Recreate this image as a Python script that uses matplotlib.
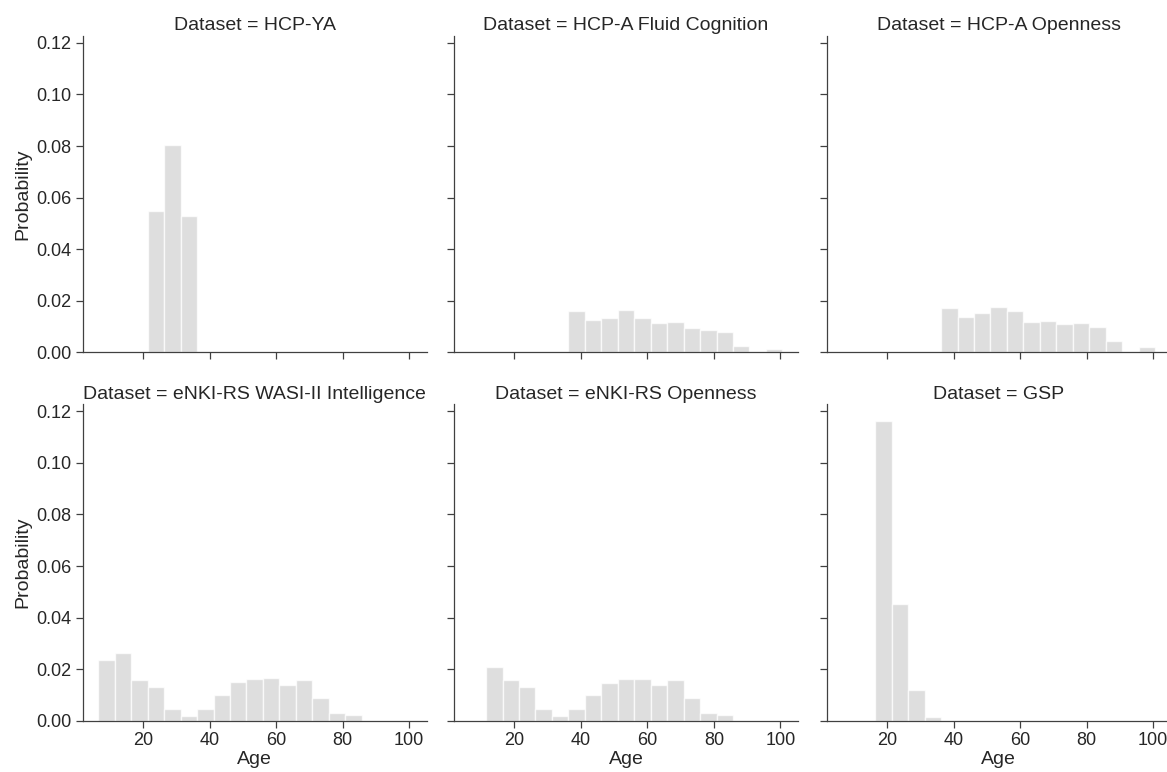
import numpy as np
import matplotlib
matplotlib.use("Agg")
import matplotlib.pyplot as plt
from matplotlib.ticker import FormatStrFormatter

# Bordas comuns dos bins de idade (19 bins)
bordas = np.linspace(6.5, 100.6, 20)

datasets = ["HCP-YA", "HCP-A Fluid Cognition", "HCP-A Openness",
            "eNKI-RS WASI-II Intelligence", "eNKI-RS Openness", "GSP"]

# Probabilidade por bin
hcp_ya = [0, 0, 0, 0.0549, 0.0803, 0.0527, 0, 0, 0, 0, 0, 0, 0, 0, 0, 0, 0, 0, 0]
hcp_a_fluid = [0, 0, 0, 0, 0, 0,
               0.0160, 0.0125, 0.0134, 0.0164, 0.0134, 0.0114, 0.0117,
               0.0095, 0.0086, 0.0079, 0.0026, 0, 0.0013]
hcp_a_open = [0, 0, 0, 0, 0, 0,
              0.0173, 0.0138, 0.0151, 0.0177, 0.0160, 0.0116, 0.0121,
              0.0108, 0.0112, 0.0099, 0.0044, 0, 0.0022]
enki_wasi = [0.0234, 0.0264, 0.0157, 0.0131, 0.0044, 0.0018, 0.0044, 0.0101,
             0.0151, 0.0161, 0.0166, 0.0140, 0.0157, 0.0088, 0.0031, 0.0023,
             0, 0, 0]
enki_open = [0, 0.0210, 0.0157, 0.0132, 0.0044, 0.0018, 0.0044, 0.0101,
             0.0148, 0.0161, 0.0161, 0.0140, 0.0157, 0.0088, 0.0031, 0.0022,
             0, 0, 0]
gsp = [0, 0, 0.1164, 0.0454, 0.0118, 0.0014, 0, 0, 0, 0, 0, 0, 0, 0, 0, 0, 0, 0, 0]

valores = [hcp_ya, hcp_a_fluid, hcp_a_open, enki_wasi, enki_open, gsp]

plt.rcParams["font.family"] = ["Liberation Sans", "DejaVu Sans"]
plt.rcParams["text.color"] = ".15"
plt.rcParams["axes.labelcolor"] = ".15"
plt.rcParams["xtick.color"] = ".15"
plt.rcParams["ytick.color"] = ".15"

W, H = 1167, 772
fig = plt.figure(figsize=(W / 100, H / 100), dpi=100)

esquerdas = [82.7, 454.0, 826.7]
largura = 344.0
topos = [35.7, 404.1]
altura = 316.6

eixos = []
for i, (nome, vals) in enumerate(zip(datasets, valores)):
    lin, col = divmod(i, 3)
    x0 = esquerdas[col] / W
    y0 = 1 - (topos[lin] + altura) / H
    ax = fig.add_axes([x0, y0, largura / W, altura / H],
                      sharex=eixos[0] if eixos else None,
                      sharey=eixos[0] if eixos else None)
    eixos.append(ax)

    vals = np.array(vals)
    larg = np.diff(bordas)
    ax.bar(bordas[:-1], vals, width=larg, align="edge",
           color="lightgray", alpha=0.75, edgecolor="white", linewidth=1.0)

    ax.set_title(f"Dataset = {nome}", fontsize=14, pad=4)
    for lado in ["top", "right"]:
        ax.spines[lado].set_visible(False)
    for lado in ["left", "bottom"]:
        ax.spines[lado].set_color(".25")
        ax.spines[lado].set_linewidth(0.9)
    ax.tick_params(direction="out", length=4.8, width=0.9, labelsize=13,
                   color=".25")

    if col == 0:
        ax.set_ylabel("Probability", fontsize=14, labelpad=3)
    else:
        ax.tick_params(labelleft=False)
    if lin == 1:
        ax.set_xlabel("Age", fontsize=14, labelpad=1)
    else:
        ax.tick_params(labelbottom=False)

ax = eixos[0]
ax.set_xticks([20, 40, 60, 80, 100])
ax.set_yticks([0, 0.02, 0.04, 0.06, 0.08, 0.10, 0.12])
ax.yaxis.set_major_formatter(FormatStrFormatter("%.2f"))
ax.set_xlim(1.8, 105.3)
ax.set_ylim(0, 0.1228)

fig.savefig("out.png", dpi=100)
